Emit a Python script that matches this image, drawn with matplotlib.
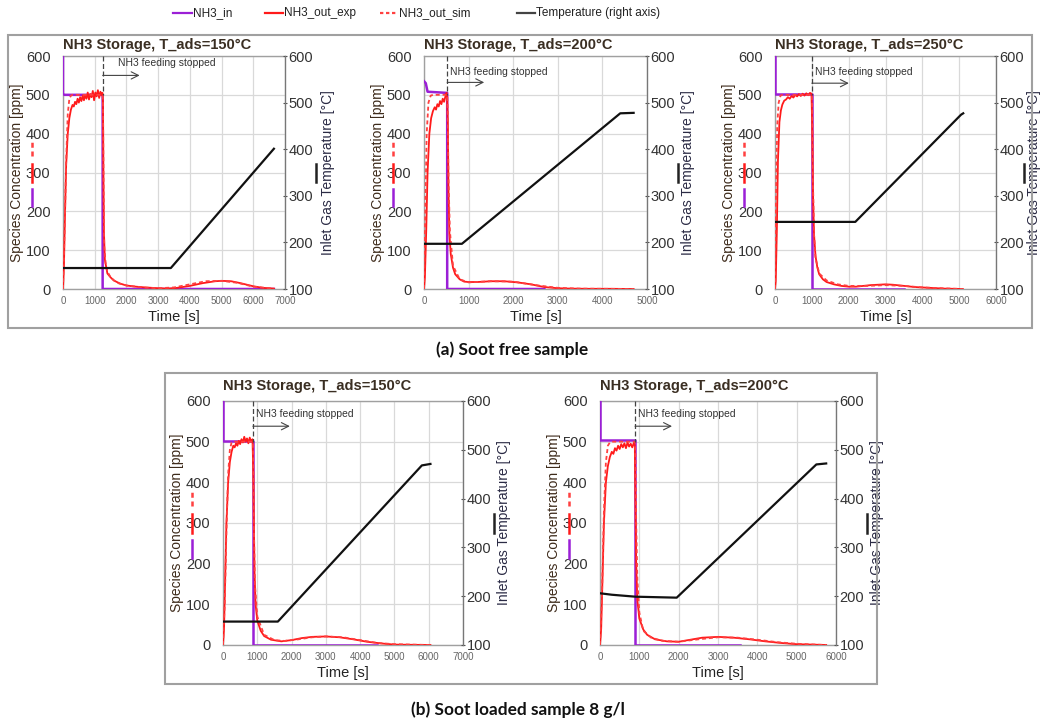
import matplotlib
matplotlib.use('Agg')
import matplotlib.pyplot as plt
from matplotlib.lines import Line2D
from matplotlib.patches import Rectangle

plt.rcParams['font.family'] = ['Liberation Sans', 'DejaVu Sans']

# ---------------- data ----------------
titles = ['NH3 Storage, T_ads=150°C', 'NH3 Storage, T_ads=200°C', 'NH3 Storage, T_ads=250°C',
          'NH3 Storage, T_ads=150°C', 'NH3 Storage, T_ads=200°C']
x_max = [7000, 5000, 6000, 7000, 6000]
stop_time = [1250, 520, 1000, 870, 890]
left_ticks = [0, 100, 200, 300, 400, 500, 600]
right_ticks = [100, 200, 300, 400, 500, 600]
legend_labels = ['NH3_in', 'NH3_out_exp', 'NH3_out_sim', 'Temperature (right axis)']
captions = ['(a) Soot free sample', '(b) Soot loaded sample 8 g/l']

# panel 1: soot free, 150 C
p1_t_in = [0, 0, 40, 1250, 1250, 6650]
p1_in = [600, 503, 500, 500, 0, 0]
p1_t_exp = [0, 30, 60, 100, 150, 200, 250, 300,
            340, 380, 420, 460, 500, 540, 580, 620, 660, 700, 740, 780, 820, 860, 900, 940, 980, 1020,
            1060, 1100, 1140, 1180, 1220,
            1245, 1260, 1275, 1290, 1320, 1400,
            1500, 1600, 1800, 2000, 2300, 2600, 3000, 3300, 3600, 4000, 4400, 4800, 5000, 5300, 5600,
            6000, 6300, 6650]
p1_exp = [0, 60, 180, 320, 400, 440, 462, 474,
          470, 482, 476, 490, 480, 494, 484, 498, 486, 500, 490, 506, 488, 502, 494, 510, 486, 506,
          496, 512, 492, 508, 500,
          505, 480, 300, 150, 75, 40,
          30, 22, 14, 9, 6, 4, 2, 1, 3, 8, 15, 20, 21, 20, 15,
          7, 3, 1]
p1_t_sim = [0, 50, 100, 150, 200, 250, 300, 1250, 1262, 1280, 1300, 1350, 1400, 1500, 1700, 2000,
            2500, 3000, 3500, 4000, 4500, 5000, 5500, 6000, 6650]
p1_sim = [0, 150, 330, 450, 490, 498, 500, 500, 480, 250, 110, 60, 45, 30, 16, 9,
          4, 2, 4, 12, 20, 21, 16, 6, 1]
p1_t_temp = [0, 3400, 6650]
p1_temp = [145, 145, 401]

# panel 2: soot free, 200 C
p2_t_in = [0, 40, 80, 520, 520, 2700]
p2_in = [535, 530, 508, 505, 0, 0]
p2_t_exp = [0, 20, 50, 80, 120, 160, 200,
            240, 270, 300, 330, 360, 390, 420, 450, 480, 505, 520,
            535, 550, 570, 600, 650, 700, 800, 900, 1000, 1200, 1500, 1800, 2100, 2400, 2700, 3000,
            3300, 3700, 4200, 4700]
p2_exp = [0, 30, 150, 300, 400, 440, 458,
          468, 462, 476, 470, 484, 476, 490, 482, 496, 505, 495,
          420, 250, 140, 90, 55, 38, 25, 19, 18, 18, 20, 20, 17, 12, 5, 2,
          1, 0.5, 0.5, 0]
p2_t_sim = [0, 30, 60, 100, 150, 200, 520, 530, 550, 580, 650, 800, 1000, 1500, 2000, 2500, 3000,
            3500, 4700]
p2_sim = [0, 200, 400, 480, 498, 500, 500, 460, 280, 150, 60, 25, 17, 20, 19, 10, 3, 1, 0]
p2_t_temp = [0, 850, 4400, 4700]
p2_temp = [197, 197, 477, 478]

# panel 3: soot free, 250 C
p3_t_in = [0, 0, 1000, 1000, 3500]
p3_in = [600, 502, 502, 0, 0]
p3_t_exp = [0, 20, 50, 80, 120, 160, 200,
            250, 300, 350, 400, 450, 500, 550, 600, 650, 700, 750, 800, 850, 900, 950,
            990, 1010, 1030, 1060, 1100, 1150, 1200, 1300, 1400,
            1600, 1800, 2000, 2200, 2400, 2600, 2800, 3000, 3200, 3500, 3800, 4200, 4600, 5100]
p3_exp = [0, 20, 150, 330, 430, 460, 475,
          485, 488, 494, 490, 497, 493, 500, 496, 502, 497, 503, 498, 504, 499, 505,
          503, 420, 250, 140, 85, 55, 38, 25, 18,
          12, 8, 6, 6, 8, 10, 11, 12, 11, 8, 5, 3, 1, 0]
p3_t_sim = [0, 30, 60, 100, 150, 200, 1000, 1010, 1030, 1060, 1100, 1200, 1400, 1700, 2000, 2500,
            3000, 3500, 4000, 4500, 5100]
p3_sim = [0, 250, 420, 480, 498, 500, 500, 470, 280, 140, 80, 40, 22, 12, 8, 8,
          10, 8, 4, 2, 0]
p3_t_temp = [0, 2180, 5050, 5110]
p3_temp = [244, 244, 474, 477]

# panel 4: soot loaded, 150 C
b1_t_in = [0, 0, 870, 870, 4500]
b1_in = [600, 502, 502, 0, 0]
b1_t_exp = [0, 30, 60, 100, 150, 200, 250, 300,
            340, 380, 420, 460, 500, 540, 580, 620, 660, 700, 740, 780, 820, 860,
            885, 900, 920, 950, 1000, 1100, 1200, 1400, 1700, 2000, 2300, 2600, 3000, 3400, 3800,
            4200, 4600, 5000, 5500, 6050]
b1_exp = [0, 40, 150, 300, 400, 450, 475, 490,
          486, 496, 490, 502, 494, 506, 498, 512, 500, 508, 496, 510, 500, 506,
          420, 300, 180, 100, 60, 35, 22, 13, 9, 12, 17, 20, 21, 19, 14,
          8, 4, 1, 0.5, 0]
b1_t_sim = [0, 50, 100, 150, 200, 250, 300, 870, 880, 900, 930, 1000, 1200, 1500, 1800, 2200,
            2600, 3000, 3500, 4000, 4500, 5000, 6050]
b1_sim = [0, 100, 280, 420, 480, 498, 500, 500, 470, 300, 150, 70, 25, 12, 10, 14,
          19, 21, 19, 12, 5, 2, 0]
b1_t_temp = [0, 1600, 5800, 6050]
b1_temp = [148, 148, 468, 471]

# panel 5: soot loaded, 200 C
b2_t_in = [0, 0, 890, 890, 3560]
b2_in = [600, 503, 503, 0, 0]
b2_t_exp = [0, 30, 60, 100, 150, 200, 250, 300,
            340, 380, 420, 460, 500, 540, 580, 620, 660, 700, 740, 780, 820, 860,
            885, 900, 920, 950, 1000, 1100, 1200, 1400, 1700, 2000, 2300, 2600, 3000, 3400, 3800,
            4200, 4600, 5000, 5400, 5750]
b2_exp = [0, 40, 150, 300, 400, 440, 462, 475,
          470, 484, 478, 490, 482, 494, 486, 496, 484, 498, 488, 495, 486, 497,
          492, 350, 200, 110, 65, 38, 25, 14, 9, 8, 13, 18, 20, 18, 14,
          9, 5, 2, 1, 0]
b2_t_sim = [0, 50, 100, 150, 200, 250, 300, 890, 900, 920, 950, 1000, 1100, 1300, 1600, 2000,
            2500, 3000, 3500, 4000, 4500, 5000, 5750]
b2_sim = [0, 120, 330, 450, 490, 498, 500, 500, 470, 300, 160, 80, 35, 18, 10, 8,
          14, 19, 18, 13, 7, 3, 0]
b2_t_temp = [0, 300, 900, 1950, 5500, 5750]
b2_temp = [206, 203, 199, 197, 470, 472]

# ---------------- style ----------------
C_IN = '#9b1fd6'
C_EXP = '#ff1a1a'
C_SIM = '#ff4040'
C_T = '#111111'
SIM_DASH = (0, (2.2, 1.6))

W, H = 1043, 722
fig = plt.figure(figsize=(W / 100, H / 100), dpi=100)

# layout in pixels: left, top, right, bottom
rects = [(63, 56, 285, 289), (424, 56, 647, 289), (775, 56, 996, 289),
         (223, 401, 463, 645), (600, 401, 836, 645)]
title_gap = [11, 11, 11, 15, 15]
arrow_y = [550, 532, 530, 538, 538]
text_y = [581, 560, 558, 567, 567]
text_dx = [15, 3, 3, 3, 3]
rlabel_dx = [43, 41, 38, 41, 41]
rkey_dx = [31, 31, 28, 31, 31]

panels = [
    (p1_t_in, p1_in, p1_t_exp, p1_exp, p1_t_sim, p1_sim, p1_t_temp, p1_temp),
    (p2_t_in, p2_in, p2_t_exp, p2_exp, p2_t_sim, p2_sim, p2_t_temp, p2_temp),
    (p3_t_in, p3_in, p3_t_exp, p3_exp, p3_t_sim, p3_sim, p3_t_temp, p3_temp),
    (b1_t_in, b1_in, b1_t_exp, b1_exp, b1_t_sim, b1_sim, b1_t_temp, b1_temp),
    (b2_t_in, b2_in, b2_t_exp, b2_exp, b2_t_sim, b2_sim, b2_t_temp, b2_temp),
]

for i, (tin, vin, texp, vexp, tsim, vsim, tT, vT) in enumerate(panels):
    x0, y0, x1, y1 = rects[i]
    wpx, hpx = x1 - x0, y1 - y0
    ax = fig.add_axes([x0 / W, 1 - y1 / H, wpx / W, hpx / H])
    ax.set_xlim(0, x_max[i])
    ax.set_ylim(0, 600)
    ax.set_xticks(range(0, x_max[i] + 1, 1000))
    ax.set_yticks(left_ticks)
    ax.grid(True, color='#d9d9d9', lw=0.9)
    ax.set_axisbelow(True)
    for s in ax.spines.values():
        s.set_color('#a0a0a0')
        s.set_linewidth(1.0)
    ax.tick_params(axis='y', length=0, labelsize=10.5, labelcolor='#333333', pad=9)
    ax.tick_params(axis='x', length=0, labelsize=7, labelcolor='#666666', pad=5)

    ax.plot(tin, vin, color=C_IN, lw=1.8, zorder=3)
    ax.plot(texp, vexp, color=C_EXP, lw=1.3, zorder=4)
    ax.plot(tsim, vsim, color=C_SIM, lw=1.3, ls=SIM_DASH, zorder=5)

    # annotation
    st = stop_time[i]
    ax.plot([st, st], [600, 500], color='#444444', lw=0.9, ls=(0, (4, 2)), zorder=6)
    dx = 37 / wpx * x_max[i]
    ax.annotate('', xy=(st + dx, arrow_y[i]), xytext=(st, arrow_y[i]),
                arrowprops=dict(arrowstyle='->', color='#444444', lw=0.8, mutation_scale=13,
                                shrinkA=0, shrinkB=0), zorder=6)
    ax.text(st + text_dx[i] / wpx * x_max[i], text_y[i], 'NH3 feeding stopped',
            fontsize=7.5, color='#333333', ha='left', va='center', zorder=6)

    ax.text(0, 1 + title_gap[i] / hpx, titles[i], transform=ax.transAxes, ha='left', va='center',
            fontsize=10.5, fontweight='bold', color='#3a2e22')

    ax.set_xlabel('Time [s]', fontsize=10.5, color='#222222')
    ax.xaxis.set_label_coords(0.5, -28 / hpx)
    ax.xaxis.label.set_va('center')
    ax.set_ylabel('Species Concentration [ppm]', fontsize=10, color='#3d2a1a')
    ax.yaxis.set_label_coords(-46 / wpx, 0.5)
    ax.yaxis.label.set_va('center')

    # vertical legend keys next to axis labels
    kx = -31 / wpx
    ax.add_line(Line2D([kx, kx], [0.57, 0.64], transform=ax.transAxes, color=C_SIM, lw=1.8,
                       ls=(0, (2, 1.5)), clip_on=False))
    ax.add_line(Line2D([kx, kx], [0.46, 0.535], transform=ax.transAxes, color=C_EXP, lw=1.8,
                       clip_on=False))
    ax.add_line(Line2D([kx, kx], [0.355, 0.43], transform=ax.transAxes, color=C_IN, lw=1.8,
                       clip_on=False))
    rk = 1 + rkey_dx[i] / wpx
    ax.add_line(Line2D([rk, rk], [0.46, 0.535], transform=ax.transAxes, color='#222222', lw=1.8,
                       clip_on=False))

    ax2 = ax.twinx()
    ax2.set_ylim(100, 600)
    ax2.set_yticks(right_ticks)
    ax2.plot(tT, vT, color=C_T, lw=1.6, zorder=7)
    for s in ax2.spines.values():
        s.set_visible(False)
    ax2.spines['right'].set_visible(True)
    ax2.spines['right'].set_color('#777777')
    ax2.tick_params(axis='y', length=3, direction='inout', color='#555555', labelsize=10.5,
                    labelcolor='#333333', pad=1)
    ax2.set_ylabel('Inlet Gas Temperature [°C]', fontsize=10, color='#2a2a44')
    ax2.yaxis.set_label_coords(1 + rlabel_dx[i] / wpx, 0.5)
    ax2.yaxis.label.set_va('center')

# figure legend drawn manually
leg_x = [(173, 192), (265, 283), (380, 398), (517, 535)]
leg_cols = [C_IN, C_EXP, C_SIM, '#444444']
leg_ls = ['-', '-', (0, (1.5, 1.2)), '-']
ly = 1 - 13 / H
for (a, b), c, ls, lab in zip(leg_x, leg_cols, leg_ls, legend_labels):
    fig.add_artist(Line2D([a / W, b / W], [ly, ly], transform=fig.transFigure, color=c, lw=1.6, ls=ls))
    fig.text((b + 1) / W, ly, lab, ha='left', va='center', fontsize=8.5, color='#222222')

# group boxes
fig.add_artist(Rectangle((8 / W, 1 - 328 / H), 1024 / W, 293 / H, transform=fig.transFigure,
                         fill=False, ec='#a0a0a0', lw=1.5))
fig.add_artist(Rectangle((165 / W, 1 - 684 / H), 712 / W, 311 / H, transform=fig.transFigure,
                         fill=False, ec='#a0a0a0', lw=1.5))

fig.text(512 / W, 1 - 350 / H, captions[0], ha='center', va='center', fontsize=12.4,
         fontweight='bold', family=['Lato', 'DejaVu Sans'], color='#111111')
fig.text(518 / W, 1 - 710 / H, captions[1], ha='center', va='center', fontsize=12.4,
         fontweight='bold', family=['Lato', 'DejaVu Sans'], color='#111111')

fig.savefig('out.png', dpi=100, facecolor='white')
